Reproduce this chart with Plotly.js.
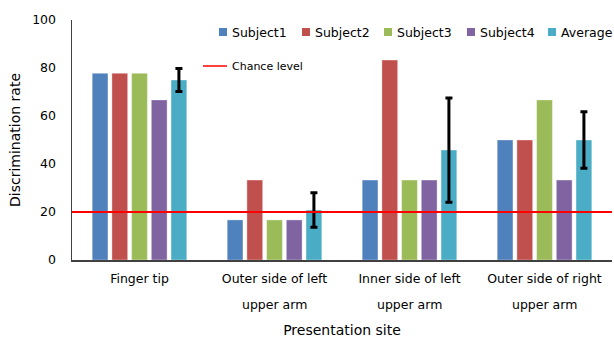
<!DOCTYPE html>
<html>
<head>
<meta charset="utf-8">
<script src="https://cdn.plot.ly/plotly-3.0.1.min.js"></script>
<style>html,body{margin:0;padding:0;background:#fff;}#chart{width:614px;height:338px;}</style>
</head>
<body>
<div id="chart"></div>
<script>
// ---- data ----
const categories = ["Finger tip", "Outer side of left upper arm", "Inner side of left upper arm", "Outer side of right upper arm"];
const tickLine1 = ["Finger tip", "Outer side of left", "Inner side of left", "Outer side of right"];
const tickLine2 = ["", "upper arm", "upper arm", "upper arm"];
const seriesNames = ["Subject1", "Subject2", "Subject3", "Subject4", "Average"];
const subject1 = [77.8, 16.7, 33.3, 50.0];
const subject2 = [77.8, 33.3, 83.3, 50.0];
const subject3 = [77.8, 16.7, 33.3, 66.7];
const subject4 = [66.7, 16.7, 33.3, 33.3];
const average  = [75.0, 20.8, 45.8, 50.0];
const averageErr = [4.8, 7.2, 21.7, 11.8];
const chanceLevel = 20;
const chanceLabel = "Chance level";
const yTitle = "Discrimination rate";
const xTitle = "Presentation site";

// ---- styles ----
const colors = ["#4F81BD", "#C0504D", "#9BBB59", "#8064A2", "#4BACC6"];
const FONT = "DejaVu Sans, Verdana, sans-serif";
const values = [subject1, subject2, subject3, subject4, average];

const traces = values.map((v, i) => {
  const t = {
    type: "bar", x: categories, y: v, name: seriesNames[i],
    marker: {color: colors[i], line: {color: "rgba(255,255,255,0.35)", width: 1}},
    showlegend: false, hoverinfo: "none"
  };
  if (seriesNames[i] === "Average") {
    t.error_y = {type: "data", array: averageErr, visible: true, color: "#000", thickness: 3, width: 3.5};
  }
  return t;
});

// custom legend (positions in paper px)
const W = 614, H = 338, ml = 72, mr = 2, mt = 20, mb = 78;
const pw = W - ml - mr, ph = H - mt - mb;
const px = x => (x - ml) / pw;
const py = y => (H - mb - y) / ph;
const legendX = [219, 302, 384, 467, 548];
const legendY = 32;
const shapes = [];
const annotations = [];
seriesNames.forEach((n, i) => {
  shapes.push({type: "rect", xref: "paper", yref: "paper",
    x0: px(legendX[i]), x1: px(legendX[i] + 8), y0: py(legendY + 4), y1: py(legendY - 4),
    fillcolor: colors[i], line: {width: 0}});
  annotations.push({xref: "paper", yref: "paper", x: px(legendX[i] + 11), y: py(legendY),
    xanchor: "left", yanchor: "middle", showarrow: false, text: n,
    font: {family: FONT, size: 12.5, color: "#000"}});
});
// chance level legend
shapes.push({type: "line", xref: "paper", yref: "paper", x0: px(203), x1: px(227), y0: py(66), y1: py(66),
  line: {color: "#FF0000", width: 1.5}});
annotations.push({xref: "paper", yref: "paper", x: px(230), y: py(66), xanchor: "left", yanchor: "middle",
  showarrow: false, text: chanceLabel, font: {family: FONT, size: 11, color: "#000"}});
// chance level line across the plot
shapes.push({type: "line", xref: "paper", yref: "y", x0: 0, x1: 1, y0: chanceLevel, y1: chanceLevel,
  line: {color: "#FF0000", width: 2}});
// second lines of tick labels
categories.forEach((c, i) => {
  if (tickLine2[i]) annotations.push({xref: "x", yref: "paper", x: c, y: 0, yanchor: "middle",
    yshift: -44, showarrow: false, text: tickLine2[i], font: {family: FONT, size: 12.5, color: "#000"}});
});

const layout = {
  width: W, height: H,
  margin: {l: ml, r: mr, t: mt, b: mb, pad: 0},
  paper_bgcolor: "#fff", plot_bgcolor: "#fff",
  font: {family: FONT, color: "#000"},
  barmode: "group", bargap: 0.27, bargroupgap: 0.2,
  showlegend: false,
  xaxis: {
    type: "category", tickvals: categories, ticktext: tickLine1,
    showline: true, linecolor: "#404040", linewidth: 1.5, ticks: "", showgrid: false,
    tickfont: {family: FONT, size: 12.5, color: "#000"}, ticklabelstandoff: 6,
    title: {text: xTitle, font: {family: FONT, size: 14, color: "#000"}, standoff: 40},
    automargin: false, fixedrange: true
  },
  yaxis: {
    range: [0, 100], dtick: 20, showline: true, linecolor: "#404040", linewidth: 1.5,
    ticks: "", showgrid: false, zeroline: false,
    tickfont: {family: FONT, size: 12.5, color: "#000"}, ticklabelstandoff: 12,
    title: {text: yTitle, font: {family: FONT, size: 14, color: "#000"}, standoff: 8},
    automargin: false, fixedrange: true
  },
  shapes: shapes, annotations: annotations
};

Plotly.newPlot("chart", traces, layout, {staticPlot: true, displayModeBar: false});
</script>
</body>
</html>
